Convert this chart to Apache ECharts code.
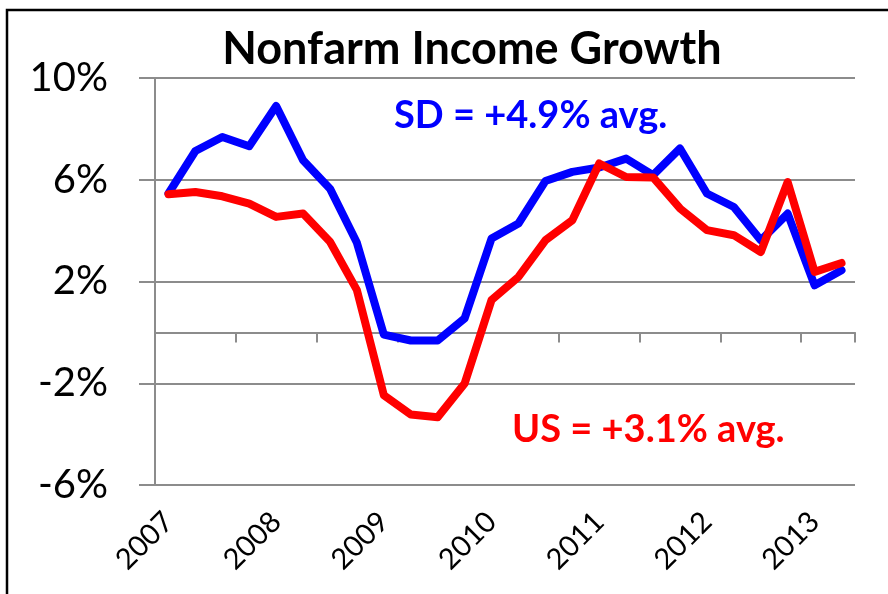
<!DOCTYPE html>
<html>
<head>
<meta charset="utf-8">
<script src="https://cdn.jsdelivr.net/npm/echarts@6/dist/echarts.min.js"></script>
<style>
  html, body { margin: 0; padding: 0; background: #fff; }
  #chart { width: 888px; height: 594px; }
</style>
</head>
<body>
<div id="chart"></div>
<script>
// quarters 2007Q1 .. 2013Q2
var quarters = ['2007', '2007Q2', '2007Q3', '2007Q4',
  '2008', '2008Q2', '2008Q3', '2008Q4',
  '2009', '2009Q2', '2009Q3', '2009Q4',
  '2010', '2010Q2', '2010Q3', '2010Q4',
  '2011', '2011Q2', '2011Q3', '2011Q4',
  '2012', '2012Q2', '2012Q3', '2012Q4',
  '2013', '2013Q2'];

// nonfarm income growth, %
var sdGrowth = [5.46, 7.13, 7.68, 7.32, 8.90, 6.77, 5.65, 3.52,
  -0.09, -0.32, -0.32, 0.55, 3.69, 4.28, 5.95, 6.31,
  6.48, 6.83, 6.18, 7.23, 5.46, 4.93, 3.62, 4.67,
  1.85, 2.44];
var usGrowth = [5.43, 5.52, 5.35, 5.06, 4.54, 4.67, 3.56, 1.66,
  -2.47, -3.23, -3.34, -2.01, 1.27, 2.18, 3.62, 4.41,
  6.64, 6.11, 6.09, 4.87, 4.02, 3.82, 3.16, 5.91,
  2.38, 2.73];

var titleText = 'Nonfarm Income Growth';
var sdNote = 'SD = +4.9% avg.';
var usNote = 'US = +3.1% avg.';

var gray = '#8c8c8c';
var font = 'Lato';

var myChart = echarts.init(document.getElementById('chart'));
var option = {
  animation: false,
  backgroundColor: '#fff',
  title: {
    text: titleText,
    left: 467,
    top: 22,
    textAlign: 'center',
    textStyle: { fontFamily: font, fontWeight: 'bold', fontSize: 45, color: '#000' }
  },
  grid: { left: 155, right: 33, top: 78, bottom: 109 },
  xAxis: [
    {
      // axis line on zero with tick marks, no labels
      type: 'category',
      data: quarters,
      boundaryGap: true,
      position: 'bottom',
      axisLine: { onZero: true, lineStyle: { color: gray, width: 2 } },
      axisTick: { show: true, interval: 2, length: 10, lineStyle: { color: gray, width: 2 } },
      axisLabel: { show: false },
      splitLine: { show: false }
    },
    {
      // year labels along the bottom
      type: 'category',
      data: quarters,
      boundaryGap: true,
      position: 'bottom',
      axisLine: { show: false, onZero: false },
      axisTick: { show: false },
      splitLine: { show: false },
      axisLabel: {
        interval: 3,
        rotate: 45,
        margin: 32,
        fontFamily: font,
        fontSize: 29,
        color: '#000',
        formatter: function (v) { return v.slice(0, 4); }
      }
    }
  ],
  yAxis: {
    type: 'value',
    min: -6,
    max: 10,
    interval: 4,
    axisLine: { show: true, onZero: false, lineStyle: { color: gray, width: 2 } },
    axisTick: { show: true, length: 16, lineStyle: { color: gray, width: 2 } },
    splitLine: { show: true, lineStyle: { color: gray, width: 2 } },
    axisLabel: {
      formatter: '{value}%',
      margin: 47,
      fontFamily: font,
      fontSize: 40,
      color: '#000'
    }
  },
  series: [
    {
      name: 'SD',
      type: 'line',
      data: sdGrowth,
      showSymbol: false,
      lineStyle: { color: '#0000ff', width: 8, cap: 'round', join: 'round' },
      itemStyle: { color: '#0000ff' }
    },
    {
      name: 'US',
      type: 'line',
      data: usGrowth,
      showSymbol: false,
      lineStyle: { color: '#ff0000', width: 8, cap: 'round', join: 'round' },
      itemStyle: { color: '#ff0000' }
    }
  ],
  graphic: [
    {
      type: 'rect',
      shape: { x: 7, y: 10, width: 900, height: 700 },
      style: { fill: 'none', stroke: '#000', lineWidth: 2.5 },
      silent: true
    },
    {
      type: 'text',
      x: 394, y: 116,
      style: { text: sdNote, fill: '#0000ff', font: 'bold 38px Lato', textVerticalAlign: 'middle' }
    },
    {
      type: 'text',
      x: 512, y: 430,
      style: { text: usNote, fill: '#ff0000', font: 'bold 38px Lato', textVerticalAlign: 'middle' }
    }
  ]
};
myChart.setOption(option);
</script>
</body>
</html>
